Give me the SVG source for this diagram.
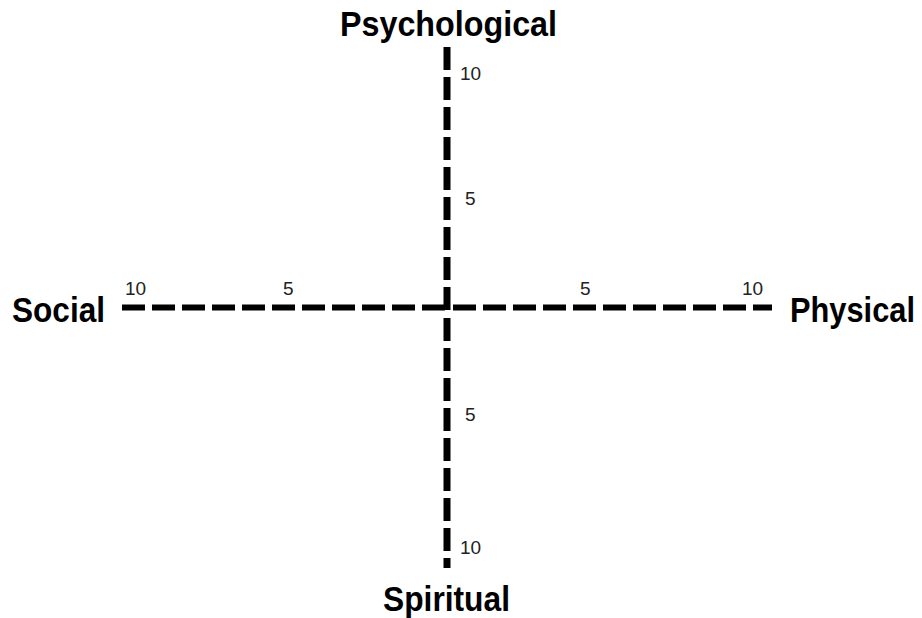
<svg xmlns="http://www.w3.org/2000/svg" width="922" height="618" viewBox="0 0 922 618">
  <style>
    .axis { fill: none; stroke: #000; stroke-dasharray: 23 7; }
    .h { stroke-width: 6; }
    .v { stroke-width: 7; }
    .label { font-family: "Liberation Sans", Arial, sans-serif; font-weight: bold; font-size: 32px; fill: #000; }
    .tick { font-family: "Liberation Sans", Arial, sans-serif; font-size: 19px; fill: #222; }
  </style>
  <rect width="922" height="618" fill="#fff"/>
  <g id="connectors">
    <line class="axis h" x1="122" y1="307.5" x2="445" y2="307.5"/>
    <line class="axis h" x1="453" y1="307.5" x2="772" y2="307.5"/>
    <line class="axis v" x1="447" y1="47" x2="447" y2="310"/>
    <line class="axis v" x1="447" y1="318" x2="447" y2="568"/>
  </g>
  <g id="psychological" transform="translate(340,36) scale(1,1.12)">
    <text class="label" x="0" y="0" textLength="217" lengthAdjust="spacingAndGlyphs">Psychological</text>
  </g>
  <g id="social" transform="translate(12,322) scale(1,1.12)">
    <text class="label" x="0" y="0" textLength="93" lengthAdjust="spacingAndGlyphs">Social</text>
  </g>
  <g id="physical" transform="translate(790,322) scale(1,1.12)">
    <text class="label" x="0" y="0" textLength="125" lengthAdjust="spacingAndGlyphs">Physical</text>
  </g>
  <g id="spiritual" transform="translate(383,611) scale(1,1.12)">
    <text class="label" x="0" y="0" textLength="127" lengthAdjust="spacingAndGlyphs">Spiritual</text>
  </g>
  <g id="ticks">
    <text class="tick" x="460" y="80">10</text>
    <text class="tick" x="465" y="205">5</text>
    <text class="tick" x="465" y="421">5</text>
    <text class="tick" x="460" y="554">10</text>
    <text class="tick" x="125" y="295">10</text>
    <text class="tick" x="283" y="295">5</text>
    <text class="tick" x="580" y="295">5</text>
    <text class="tick" x="742" y="295">10</text>
  </g>
</svg>
